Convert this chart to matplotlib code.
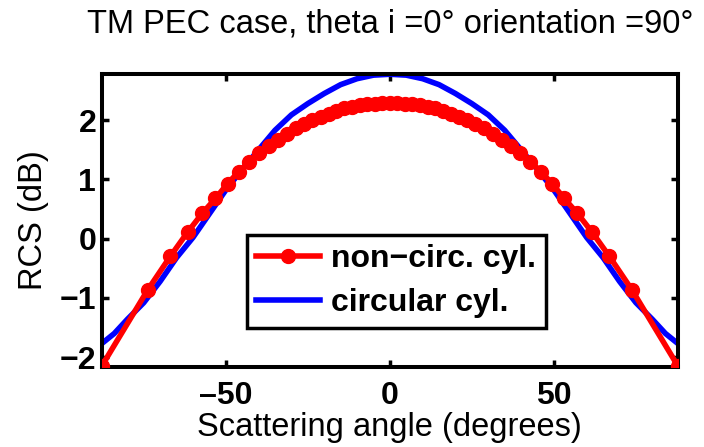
import matplotlib
matplotlib.use("Agg")
import matplotlib.pyplot as plt

plt.rcParams['font.family'] = ['Liberation Sans', 'DejaVu Sans']

# Non-circular cylinder (red, markers)
red_angle = [-87.8, -73.74, -66.93, -61.64, -57.14, -53.13, -49.46, -46.05, -42.84,
             -39.79, -36.87, -34.06, -31.33, -28.69, -26.10, -23.58, -21.10, -18.66,
             -16.26, -13.89, -11.54, -9.21, -6.89, -4.59, -2.29, 0.0,
             2.29, 4.59, 6.89, 9.21, 11.54, 13.89, 16.26, 18.66, 21.10, 23.58, 26.10,
             28.69, 31.33, 34.06, 36.87, 39.79, 42.84, 46.05, 49.46, 53.13, 57.14,
             61.64, 66.93, 73.74, 87.8]
red_rcs = [-2.15, -0.86, -0.30, 0.11, 0.43, 0.68, 0.93, 1.13, 1.30,
           1.44, 1.57, 1.67, 1.77, 1.86, 1.93, 2.00, 2.06, 2.11,
           2.16, 2.20, 2.23, 2.25, 2.27, 2.28, 2.29, 2.29,
           2.29, 2.28, 2.27, 2.25, 2.23, 2.20, 2.16, 2.11, 2.06, 2.00, 1.93,
           1.86, 1.77, 1.67, 1.57, 1.44, 1.30, 1.13, 0.93, 0.68, 0.43,
           0.11, -0.30, -0.86, -2.15]

# Circular cylinder (blue)
blue_angle = [-87.8, -84, -80, -75, -70, -65, -60, -55, -50, -45, -40, -35, -30, -25,
              -20, -15, -10, -5, 0, 5, 10, 15, 20, 25, 30, 35, 40, 45, 50, 55, 60,
              65, 70, 75, 80, 84, 87.8]
blue_rcs = [-1.77, -1.60, -1.36, -1.08, -0.72, -0.32, 0.02, 0.42, 0.82, 1.17, 1.50,
            1.83, 2.09, 2.28, 2.45, 2.60, 2.70, 2.76, 2.775, 2.76, 2.70, 2.60, 2.45,
            2.28, 2.09, 1.83, 1.50, 1.17, 0.82, 0.42, 0.02, -0.32, -0.72, -1.08,
            -1.36, -1.60, -1.77]

xticks = [-50, 0, 50]
yticks = [-2, -1, 0, 1, 2]
xtick_labels = ['\u201350', '0', '50']
ytick_labels = ['\u22122', '\u22121', '0', '1', '2']

fig = plt.figure(figsize=(7.04, 4.47), dpi=100)
ax = fig.add_axes([0.1445, 0.1796, 0.8185, 0.6549])

ax.plot(red_angle, red_rcs, color='#ff0000', lw=4.0, marker='o', ms=10,
        label='non\u2212circ. cyl.', zorder=3)
ax.plot(blue_angle, blue_rcs, color='#0000ff', lw=4.0, label='circular cyl.', zorder=2)

ax.set_xlim(-87.8, 87.8)
ax.set_ylim(-2.16, 2.78)
ax.set_xticks(xticks)
ax.set_xticklabels(xtick_labels, fontsize=23, fontweight='bold')
ax.set_yticks(yticks)
ax.set_yticklabels(ytick_labels, fontsize=23, fontweight='bold')
ax.tick_params(axis='x', pad=10)
ax.tick_params(axis='y', pad=4)
ax.tick_params(direction='in', length=5, width=2.5, top=True, right=True)
for s in ax.spines.values():
    s.set_linewidth(2.9)

ax.set_xlabel('Scattering angle (degrees)', fontsize=23.5, labelpad=1)
ax.set_ylabel('RCS (dB)', fontsize=23.5, labelpad=8)
ax.set_title('TM PEC case, theta i =0\u00b0 orientation =90\u00b0', fontsize=23.5, pad=30)

leg = ax.legend(loc='lower center', bbox_to_anchor=(0.511, 0.132), prop={'weight': 'bold', 'size': 23},
                fancybox=False, edgecolor='black', framealpha=1, handlelength=2.0,
                borderpad=0.3, labelspacing=0.45, handletextpad=0.35, borderaxespad=0)
leg.get_frame().set_linewidth(2.5)

fig.savefig('out.png', dpi=100)
